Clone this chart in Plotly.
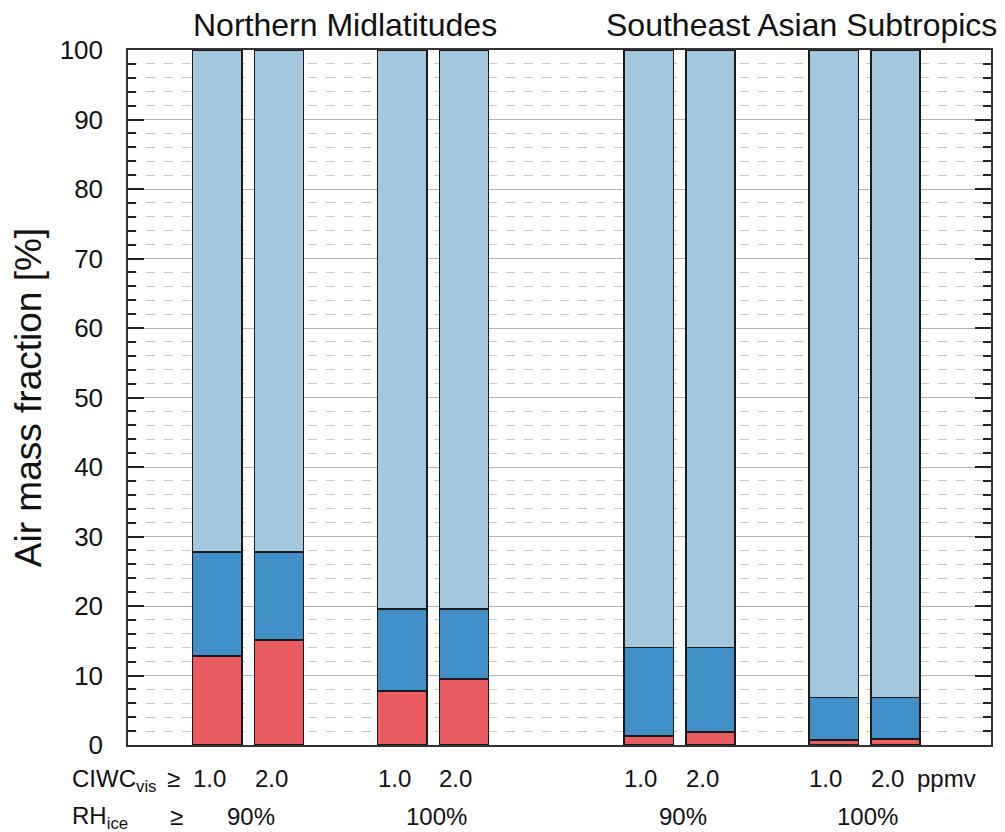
import plotly.graph_objects as go

# Data
positions = [1.5, 2.5, 4.5, 5.5, 8.5, 9.5, 11.5, 12.5]
ciwc_labels = ["1.0", "2.0", "1.0", "2.0", "1.0", "2.0", "1.0", "2.0"]
rh_labels = ["90%", "100%", "90%", "100%"]
region_titles = ["Northern Midlatitudes", "Southeast Asian Subtropics"]
# cumulative tops of each layer
red_top = [12.8, 15.1, 7.8, 9.5, 1.3, 1.9, 0.7, 0.9]
blue_top = [27.8, 27.8, 19.6, 19.6, 14.0, 14.0, 6.8, 6.8]
total = [100, 100, 100, 100, 100, 100, 100, 100]

red_seg = [r for r in red_top]
blue_seg = [b - r for b, r in zip(blue_top, red_top)]
light_seg = [t - b for t, b in zip(total, blue_top)]

TXT = "#111"
line = dict(color="#1a1a1a", width=1.5)
fig = go.Figure()
fig.add_bar(x=positions, y=red_seg, width=0.8, marker=dict(color="#e95b5f", line=line))
fig.add_bar(x=positions, y=blue_seg, width=0.8, marker=dict(color="#4190c8", line=line))
fig.add_bar(x=positions, y=light_seg, width=0.8, marker=dict(color="#a2c8e0", line=line))

# page body has an 8px margin at left/top; compensate so the plot sits where the reference's does
fig.update_layout(
    barmode="stack",
    width=997, height=824,
    margin=dict(l=116, r=13, t=42, b=87),
    plot_bgcolor="white", paper_bgcolor="white",
    showlegend=False,
    font=dict(family="Liberation Sans, Arial, sans-serif", color=TXT),
)
fig.update_xaxes(range=[0.05, 14.05], showticklabels=False, ticks="", showgrid=False,
                 showline=True, linecolor="#333", linewidth=1.5, mirror=True, zeroline=False)
fig.update_yaxes(range=[0, 100], dtick=10, tick0=0,
                 showline=True, linecolor="#333", linewidth=1.5, mirror="ticks",
                 ticks="inside", ticklen=16, tickwidth=1.5, tickcolor="#222",
                 showgrid=True, gridcolor="#b0b0b0", gridwidth=1, zeroline=False,
                 tickfont=dict(size=26, color=TXT), ticklabelstandoff=18,
                 title=dict(text="Air mass fraction [%]", font=dict(size=37, color=TXT), standoff=14),
                 minor=dict(dtick=2, ticks="inside", ticklen=8, tickwidth=1.5, tickcolor="#222",
                            showgrid=True, gridcolor="#c8c8c8", griddash="dash", gridwidth=1))

# region titles
fig.add_annotation(x=(positions[0] + positions[3]) / 2, y=1.0, xref="x", yref="paper",
                   text=region_titles[0], showarrow=False, yanchor="middle", yshift=25, xshift=4,
                   font=dict(size=32, color=TXT))
fig.add_annotation(x=1.0, y=1.0, xref="paper", yref="paper", xanchor="right", xshift=8,
                   text=region_titles[1], showarrow=False, yanchor="middle", yshift=25,
                   font=dict(size=32, color=TXT))

FS = 24
# bottom labels
for xp, lab in zip(positions, ciwc_labels):
    fig.add_annotation(x=xp, y=0, xref="x", yref="paper", text=lab, showarrow=False,
                       yanchor="middle", yshift=-33, xshift=-8, font=dict(size=FS, color=TXT))
for i, lab in enumerate(rh_labels):
    xc = (positions[2 * i] + positions[2 * i + 1]) / 2
    fig.add_annotation(x=xc, y=0, xref="x", yref="paper", text=lab, showarrow=False,
                       yanchor="middle", yshift=-71, xshift=3, font=dict(size=FS, color=TXT))
fig.add_annotation(x=0, y=0, xref="paper", yref="paper", xanchor="left", xshift=-58,
                   text="CIWC<sub>vis</sub>", showarrow=False, yanchor="middle", yshift=-35,
                   font=dict(size=FS, color=TXT))
fig.add_annotation(x=0, y=0, xref="paper", yref="paper", xanchor="left", xshift=-58,
                   text="RH<sub>ice</sub>", showarrow=False, yanchor="middle", yshift=-72,
                   font=dict(size=FS, color=TXT))
fig.add_annotation(x=positions[0], y=0, xref="x", yref="paper", xanchor="center", xshift=-44,
                   text="≥", showarrow=False, yanchor="middle", yshift=-33,
                   font=dict(size=FS, color=TXT))
fig.add_annotation(x=positions[0], y=0, xref="x", yref="paper", xanchor="center", xshift=-41,
                   text="≥", showarrow=False, yanchor="middle", yshift=-71,
                   font=dict(size=FS, color=TXT))
fig.add_annotation(x=positions[7], y=0, xref="x", yref="paper", xanchor="left", xshift=20,
                   text="ppmv", showarrow=False, yanchor="middle", yshift=-33,
                   font=dict(size=FS, color=TXT))

fig.write_html("out.html")
